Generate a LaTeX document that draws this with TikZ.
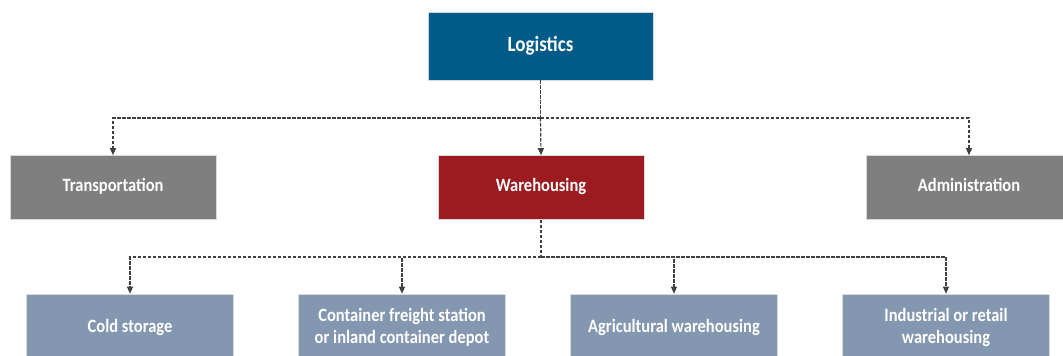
\documentclass[tikz,border=0pt]{standalone}
\usepackage{fontspec}
\setmainfont{Carlito}
\usetikzlibrary{arrows.meta}
\definecolor{logblue}{RGB}{0,91,136}
\definecolor{whred}{RGB}{155,27,32}
\definecolor{midgray}{RGB}{127,127,127}
\definecolor{subblue}{RGB}{132,151,176}
\definecolor{connc}{RGB}{64,64,64}
\newcommand{\tallt}[1]{\raisebox{-2.5pt}{\scalebox{1}[1.14]{\begin{tabular}{@{}c@{}}#1\end{tabular}}}}
\begin{document}
\begin{tikzpicture}[x=1pt,y=-1pt,
  box/.style={rectangle, inner sep=0pt, text=white, align=center,
    font=\fontsize{16.5}{19.5}\selectfont\bfseries, draw=white!85!black, line width=0.6pt},
  topbox/.style={box, fill=logblue, minimum width=225pt, minimum height=68pt,
    font=\fontsize{19}{22}\selectfont\bfseries},
  midbox/.style={box, minimum width=206pt, minimum height=64pt},
  subbox/.style={box, fill=subblue, minimum width=207pt, minimum height=68pt},
  conn/.style={draw=connc, line width=1.2pt, dash pattern=on 3.5pt off 1.5pt,
    -{Triangle[length=7pt,width=6pt]}},
  connline/.style={draw=connc, line width=1.2pt, dash pattern=on 3.5pt off 1.5pt}]
\useasboundingbox (0,0) rectangle (1063,356);
\node[topbox] (log) at (540.5,46) {\tallt{Logistics}};
\node[midbox, fill=midgray] (trans) at (113,187.5) {\tallt{Transportation}};
\node[midbox, fill=whred] (wh) at (541,187.5) {\tallt{Warehousing}};
\node[midbox, fill=midgray] (adm) at (969,187.5) {\tallt{Administration}};
\node[subbox] (cold) at (130,328) {\tallt{Cold storage}};
\node[subbox] (cfs) at (402,328) {\tallt{Container freight station\\or inland container depot}};
\node[subbox] (agr) at (674,328) {\tallt{Agricultural warehousing}};
\node[subbox] (ind) at (946,328) {\tallt{Industrial or retail\\warehousing}};
\coordinate (b1) at (540.5,118);
\coordinate (b2) at (541,257);
\draw[connline] (log.south) -- (b1);
\draw[conn] (b1) -| (trans.north);
\draw[conn] (b1) -| (adm.north);
\draw[conn] (b1) -- (wh.north);
\draw[connline] (wh.south) -- (b2);
\draw[conn] (b2) -| (cold.north);
\draw[conn] (b2) -| (cfs.north);
\draw[conn] (b2) -| (agr.north);
\draw[conn] (b2) -| (ind.north);
\end{tikzpicture}
\end{document}
